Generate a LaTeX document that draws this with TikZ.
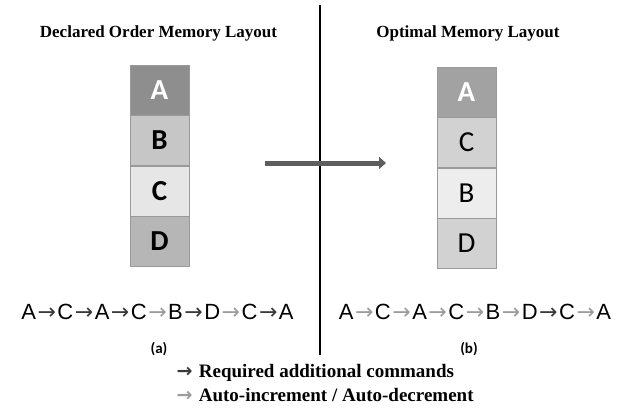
\documentclass[tikz,border=0pt]{standalone}
\usepackage{fontspec}
\setmainfont{Liberation Serif}
\newfontfamily\cellfont{Carlito}
\newfontfamily\seqfont{Liberation Sans}
\newfontfamily\arrowfont{DejaVu Sans}
\usepackage{tikz}
\usetikzlibrary{positioning, arrows.meta}
\definecolor{cellA}{HTML}{8E8E8E}
\definecolor{cellAopt}{HTML}{A2A2A2}
\definecolor{cellmid}{HTML}{C6C6C6}
\definecolor{celllight}{HTML}{E6E6E6}
\definecolor{celldark}{HTML}{B6B6B6}
\definecolor{cellgray}{HTML}{D2D2D2}
\definecolor{cellpale}{HTML}{EDEDED}
\definecolor{cellline}{HTML}{9A9A9A}
\definecolor{arrdark}{HTML}{3A3A3A}
\definecolor{arrlight}{HTML}{9C9C9C}
\definecolor{movegray}{HTML}{5E5E5E}
\newcommand\darr{{\kern1.5pt\arrowfont\textcolor{arrdark}{→}\kern1.5pt}}
\newcommand\larr{{\kern1.5pt\arrowfont\textcolor{arrlight}{→}\kern1.5pt}}

\begin{document}
\begin{tikzpicture}[
  x=1pt, y=-1pt,
  every node/.style={text=black},
  cell/.style={
    draw=cellline,
    minimum width=59pt,
    minimum height=50pt,
    inner sep=0pt,
    font=\cellfont\fontsize{29}{29}\selectfont,
  },
  heading/.style={
    font=\bfseries\fontsize{17}{19}\selectfont,
  },
  sequence/.style={
    font=\seqfont\fontsize{22}{24}\selectfont,
    inner sep=0pt,
  },
  caption/.style={
    font=\cellfont\bfseries\fontsize{15}{16}\selectfont,
  },
  legend/.style={
    font=\bfseries\fontsize{19}{21}\selectfont,
    anchor=west,
    inner sep=0pt,
  },
  move/.style={
    -{Triangle[length=7pt, width=12pt]},
    line width=5pt,
    draw=movegray,
  },
]
  \useasboundingbox (0,0) rectangle (627,410);

  % left: declared order
  \node[heading] (decltitle) at (158.5,33) {Declared Order Memory Layout};
  \node[cell, fill=cellA, text=white] (declA) at (159.5,90) {\bfseries A};
  \node[cell, fill=cellmid, below=0pt of declA] (declB) {\bfseries B};
  \node[cell, fill=celllight, below=0pt of declB] (declC) {\bfseries C};
  \node[cell, fill=celldark, below=0pt of declC] (declD) {\bfseries D};

  % right: optimal order
  \node[heading] (opttitle) at (468,33) {Optimal Memory Layout};
  \node[cell, fill=cellAopt, text=white] (optA) at (466.5,92) {\bfseries A};
  \node[cell, fill=cellgray, below=0pt of optA] (optC) {C};
  \node[cell, fill=cellpale, below=0pt of optC] (optB) {B};
  \node[cell, fill=cellgray, below=0pt of optB] (optD) {D};

  % divider and move arrow
  \coordinate (divtop) at (320,5);
  \coordinate (divbot) at (320,355);
  \draw[line width=2pt] (divtop) -- (divbot);
  \coordinate (movestart) at (265,163);
  \coordinate (moveend) at (386,163);
  \draw[move] (movestart) -- (moveend);

  % access sequences
  \node[sequence] (declseq) at (157.5,312) {A\darr C\darr A\darr C\larr B\darr D\larr C\darr A};
  \node[sequence] (optseq) at (475,312) {A\larr C\larr A\larr C\larr B\larr D\darr C\larr A};
  \node[caption] (capa) at (159,349) {(a)};
  \node[caption] (capb) at (469,349) {(b)};

  % legend
  \node[legend] (legreq) at (175,373) {\darr\ Required additional commands};
  \node[legend] (legauto) at (175,395) {\larr\ Auto-increment / Auto-decrement};
\end{tikzpicture}
\end{document}
